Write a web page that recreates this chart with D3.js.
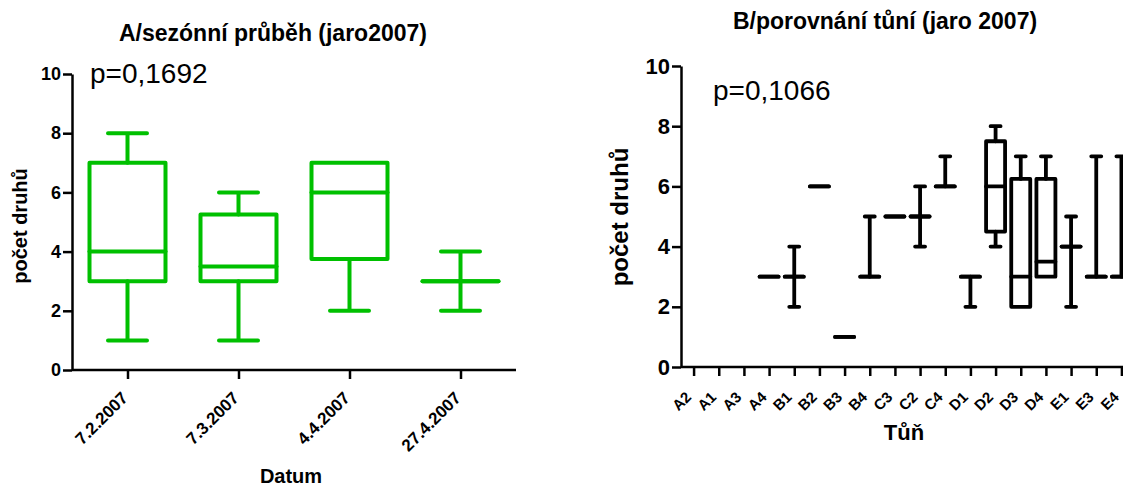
<!DOCTYPE html>
<html><head><meta charset="utf-8">
<script src="https://cdn.jsdelivr.net/npm/d3@7"></script>
<style>
body{margin:0;background:#fff}
svg{display:block}
text{font-family:"Liberation Sans",Arial,Helvetica,sans-serif;fill:#000}
</style>
</head><body>
<svg id="chart" width="1123" height="486"></svg>
<script>
// Panel A: seasonal course, spring 2007 (five-number summaries per sampling date)
const dates     = ["7.2.2007", "7.3.2007", "4.4.2007", "27.4.2007"];
const datesMin  = [1, 1, 2, 2];
const datesQ1   = [3, 3, 3.75, 3];
const datesMed  = [4, 3.5, 6, 3];
const datesQ3   = [7, 5.25, 7, 3];
const datesMax  = [8, 6, 7, 4];

// Panel B: comparison of pools (null = no samples)
const pools     = ["A2","A1","A3","A4","B1","B2","B3","B4","C3","C2","C4","D1","D2","D3","D4","E1","E3","E4"];
const poolsMin  = [null,null,null,3,2,6,1,3,5,4,6,2,4,  2,   3,   2,3,3];
const poolsQ1   = [null,null,null,3,3,6,1,3,5,5,6,3,4.5,2,   3,   4,3,3];
const poolsMed  = [null,null,null,3,3,6,1,3,5,5,6,3,6,  3,   3.5, 4,3,3];
const poolsQ3   = [null,null,null,3,3,6,1,3,5,5,6,3,7.5,6.25,6.25,4,3,3];
const poolsMax  = [null,null,null,3,4,6,1,5,5,6,7,3,8,  7,   7,   5,7,7];

const yTickValues = [0, 2, 4, 6, 8, 10];
const pValueA = "p=0,1692";
const pValueB = "p=0,1066";

const svg = d3.select("#chart");

function drawPanel(cfg) {
  const g = svg.append("g");
  const x = d3.scalePoint().domain(cfg.cats).range([cfg.x0, cfg.x1]).padding(0.5);
  const y = d3.scaleLinear().domain([0, 10]).range([cfg.y0, cfg.y1]);

  // boxes
  const rows = cfg.cats.map((c, i) => ({
    c, min: cfg.min[i], q1: cfg.q1[i], med: cfg.med[i], q3: cfg.q3[i], max: cfg.max[i]
  })).filter(d => d.med !== null);

  const bg = g.append("g")
    .attr("fill", "none")
    .attr("stroke", cfg.color)
    .attr("stroke-width", cfg.sw)
    .attr("stroke-linecap", "round")
    .attr("stroke-linejoin", "round");

  rows.forEach(d => {
    const cx = x(d.c), hb = cfg.bw / 2, hc = cfg.cw / 2;
    if (d.max > d.q3) {
      bg.append("path").attr("d", `M${cx},${y(d.q3)}V${y(d.max)}M${cx - hc},${y(d.max)}H${cx + hc}`);
    }
    if (d.min < d.q1) {
      bg.append("path").attr("d", `M${cx},${y(d.q1)}V${y(d.min)}M${cx - hc},${y(d.min)}H${cx + hc}`);
    }
    bg.append("path").attr("d",
      `M${cx - hb},${y(d.q3)}H${cx + hb}V${y(d.q1)}H${cx - hb}Z`);
    bg.append("path").attr("d", `M${cx - hb},${y(d.med)}H${cx + hb}`);
  });

  // y axis
  const ya = g.append("g").attr("transform", `translate(${cfg.x0},0)`)
    .call(d3.axisLeft(y).tickValues(yTickValues).tickSize(cfg.tick).tickSizeOuter(0).tickPadding(2));
  ya.selectAll("text").attr("font-size", cfg.yFont).attr("font-weight", "bold")
    .attr("font-family", "'Liberation Sans',Arial,sans-serif");

  // x axis
  const xa = g.append("g").attr("transform", `translate(0,${cfg.y0})`)
    .call(d3.axisBottom(x).tickSize(cfg.tick).tickSizeOuter(0));
  xa.select(".domain").attr("d", `M${cfg.x0},0H${cfg.x1}`);
  xa.selectAll("text")
    .attr("font-size", cfg.xFont).attr("font-weight", "bold")
    .attr("font-family", "'Liberation Sans',Arial,sans-serif")
    .attr("text-anchor", "end")
    .attr("dy", null).attr("y", null)
    .attr("transform", `translate(${cfg.xlOff[0]},${cfg.xlOff[1]}) rotate(-45)`);

  [ya, xa].forEach(a => {
    a.selectAll(".domain, line").attr("stroke", "#000").attr("stroke-width", cfg.aw);
  });

  // titles and labels
  g.append("text").attr("x", cfg.title[0]).attr("y", cfg.title[1])
    .attr("text-anchor", "middle").attr("font-size", cfg.titleFont).attr("font-weight", "bold")
    .text(cfg.titleText);
  g.append("text").attr("x", cfg.p[0]).attr("y", cfg.p[1])
    .attr("font-size", 28).text(cfg.pText);
  g.append("text")
    .attr("transform", `translate(${cfg.yl[0]},${cfg.yl[1]}) rotate(-90)`)
    .attr("text-anchor", "middle").attr("font-size", cfg.ylFont).attr("font-weight", "bold")
    .text("počet druhů");
  g.append("text").attr("x", cfg.xl[0]).attr("y", cfg.xl[1])
    .attr("text-anchor", "middle").attr("font-size", cfg.xlFont).attr("font-weight", "bold")
    .text(cfg.xlText);
}

drawPanel({
  cats: dates, min: datesMin, q1: datesQ1, med: datesMed, q3: datesQ3, max: datesMax,
  x0: 72, x1: 516, y0: 370, y1: 74,
  color: "#00c000", sw: 4, bw: 76, cw: 39,
  tick: 9, aw: 2.5, yFont: 18, xFont: 17, xlOff: [1, 29],
  title: [273, 41], titleFont: 23, titleText: "A/sezónní průběh (jaro2007)",
  p: [90, 83], pText: pValueA,
  yl: [27, 226], ylFont: 20,
  xl: [291, 483], xlFont: 20, xlText: "Datum"
});

drawPanel({
  cats: pools, min: poolsMin, q1: poolsQ1, med: poolsMed, q3: poolsQ3, max: poolsMax,
  x0: 681, x1: 1134, y0: 367, y1: 66,
  color: "#000", sw: 3.8, bw: 19, cw: 10,
  tick: 9, aw: 2.5, yFont: 22, xFont: 15, xlOff: [-2, 31],
  title: [885, 29], titleFont: 23, titleText: "B/porovnání tůní (jaro 2007)",
  p: [713, 100], pText: pValueB,
  yl: [628, 217], ylFont: 24,
  xl: [904, 440], xlFont: 22, xlText: "Tůň"
});
</script>
</body></html>
